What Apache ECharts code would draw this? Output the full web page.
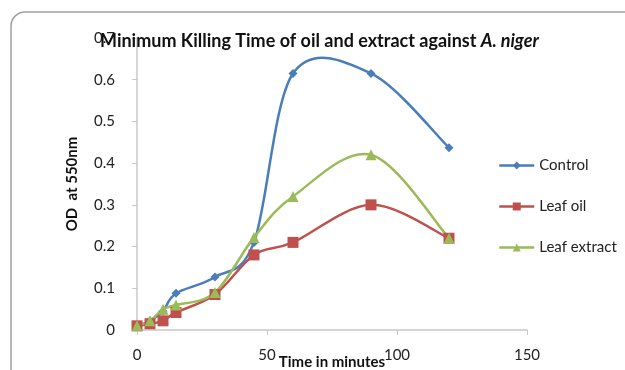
<!DOCTYPE html>
<html lang="en">
<head>
    <meta charset="UTF-8">
    <title>Minimum Killing Time of oil and extract against A. niger</title>
    <script src="https://cdn.jsdelivr.net/npm/echarts@6/dist/echarts.min.js"></script>
    <style>
        body { margin: 0; background: #fff; }
        #chart { width: 625px; height: 370px; }
    </style>
</head>
<body>
<div id="chart"></div>
<script>
    // time points (minutes)
    var times = [0, 5, 10, 15, 30, 45, 60, 90, 120];
    var control = [0.01, 0.022, 0.045, 0.088, 0.127, 0.21, 0.615, 0.615, 0.437];
    var leafOil = [0.01, 0.015, 0.022, 0.042, 0.085, 0.18, 0.21, 0.30, 0.22];
    var leafExtract = [0.01, 0.022, 0.05, 0.06, 0.09, 0.222, 0.32, 0.42, 0.22];
    var xTicks = [0, 50, 100, 150];

    var names = ['Control', 'Leaf oil', 'Leaf extract'];
    var colors = ['#4a7ebb', '#c0504d', '#9bbb59'];
    var symbols = ['diamond', 'rect', 'triangle'];
    var sizes = [9, 11, 11];
    var values = [control, leafOil, leafExtract];

    function pairs(ys) {
        return times.map(function (t, i) { return [t, ys[i]]; });
    }

    // Excel-like smoothed line (Catmull-Rom), drawn through the axis scales
    function curveRenderer(ys, color) {
        return function (params, api) {
            if (params.dataIndex !== 0) return null;
            var pts = times.map(function (t, i) { return api.coord([t, ys[i]]); });
            var d = 'M' + pts[0][0] + ',' + pts[0][1];
            for (var i = 0; i < pts.length - 1; i++) {
                var p0 = pts[Math.max(i - 1, 0)], p1 = pts[i], p2 = pts[i + 1];
                var p3 = pts[Math.min(i + 2, pts.length - 1)];
                var c1x = p1[0] + (p2[0] - p0[0]) / 6, c1y = p1[1] + (p2[1] - p0[1]) / 6;
                var c2x = p2[0] - (p3[0] - p1[0]) / 6, c2y = p2[1] - (p3[1] - p1[1]) / 6;
                d += ' C' + c1x + ',' + c1y + ' ' + c2x + ',' + c2y + ' ' + p2[0] + ',' + p2[1];
            }
            return {
                type: 'path',
                shape: { pathData: d },
                style: { fill: null, stroke: color, lineWidth: 2.5 }
            };
        };
    }

    var chart = echarts.init(document.getElementById('chart'));
    var font = 'Lato, "Open Sans", sans-serif';

    var series = [];
    names.forEach(function (name, k) {
        series.push({
            name: name + ' curve',
            type: 'custom',
            data: pairs(values[k]),
            renderItem: curveRenderer(values[k], colors[k]),
            silent: true,
            z: 1
        });
    });
    names.forEach(function (name, k) {
        series.push({
            name: name,
            type: 'line',
            data: pairs(values[k]),
            symbol: symbols[k],
            symbolSize: sizes[k],
            showAllSymbol: true,
            color: colors[k],
            lineStyle: { width: 2.5, opacity: 0 },
            z: 3
        });
    });

    var option = {
        animation: false,
        textStyle: { fontFamily: font },
        graphic: [{
            type: 'rect',
            shape: { x: 11, y: 12, width: 660, height: 420, r: 14 },
            style: { fill: 'none', stroke: '#a0a0a0', lineWidth: 1.5 },
            z: -10
        }],
        title: {
            text: '{b|Minimum Killing Time of oil and extract against }{i|A. niger}',
            left: 95,
            top: 27,
            textStyle: {
                rich: {
                    b: { fontFamily: font, fontWeight: 'bold', fontSize: 18, color: '#111' },
                    i: { fontFamily: font, fontWeight: 'bold', fontStyle: 'italic', fontSize: 18, color: '#111' }
                }
            }
        },
        legend: {
            orient: 'vertical',
            left: 493,
            top: 153,
            itemGap: 26,
            itemWidth: 35,
            itemHeight: 10,
            lineStyle: { opacity: 1, width: 2.5 },
            textStyle: { fontFamily: font, fontSize: 15, color: '#222' },
            data: names
        },
        grid: { left: 137, right: 98, top: 38, bottom: 40, outerBoundsMode: 'none' },
        xAxis: {
            type: 'value',
            min: 0,
            max: 150,
            name: 'Time in minutes',
            nameLocation: 'middle',
            nameGap: 25,
            nameMoveOverlap: false,
            nameTextStyle: { fontFamily: font, fontWeight: 'bold', fontSize: 15, color: '#111' },
            axisLine: { lineStyle: { color: '#c8c8c8', width: 1.5 } },
            axisTick: { show: true, customValues: xTicks, length: 5, lineStyle: { color: '#c8c8c8' } },
            axisLabel: { customValues: xTicks, margin: 18, fontSize: 15, color: '#222' },
            splitLine: { show: false }
        },
        yAxis: {
            type: 'value',
            min: 0,
            max: 0.7,
            interval: 0.1,
            name: 'OD  at 550nm',
            nameLocation: 'middle',
            nameGap: 57,
            nameMoveOverlap: false,
            nameTextStyle: { fontFamily: font, fontWeight: 'bold', fontSize: 15, color: '#111' },
            axisLine: { show: true, lineStyle: { color: '#c8c8c8', width: 1.5 } },
            axisTick: { show: true, length: 5, lineStyle: { color: '#c8c8c8' } },
            axisLabel: { margin: 22, fontSize: 15, color: '#222' },
            splitLine: { show: false }
        },
        series: series
    };

    chart.setOption(option);
</script>
</body>
</html>
